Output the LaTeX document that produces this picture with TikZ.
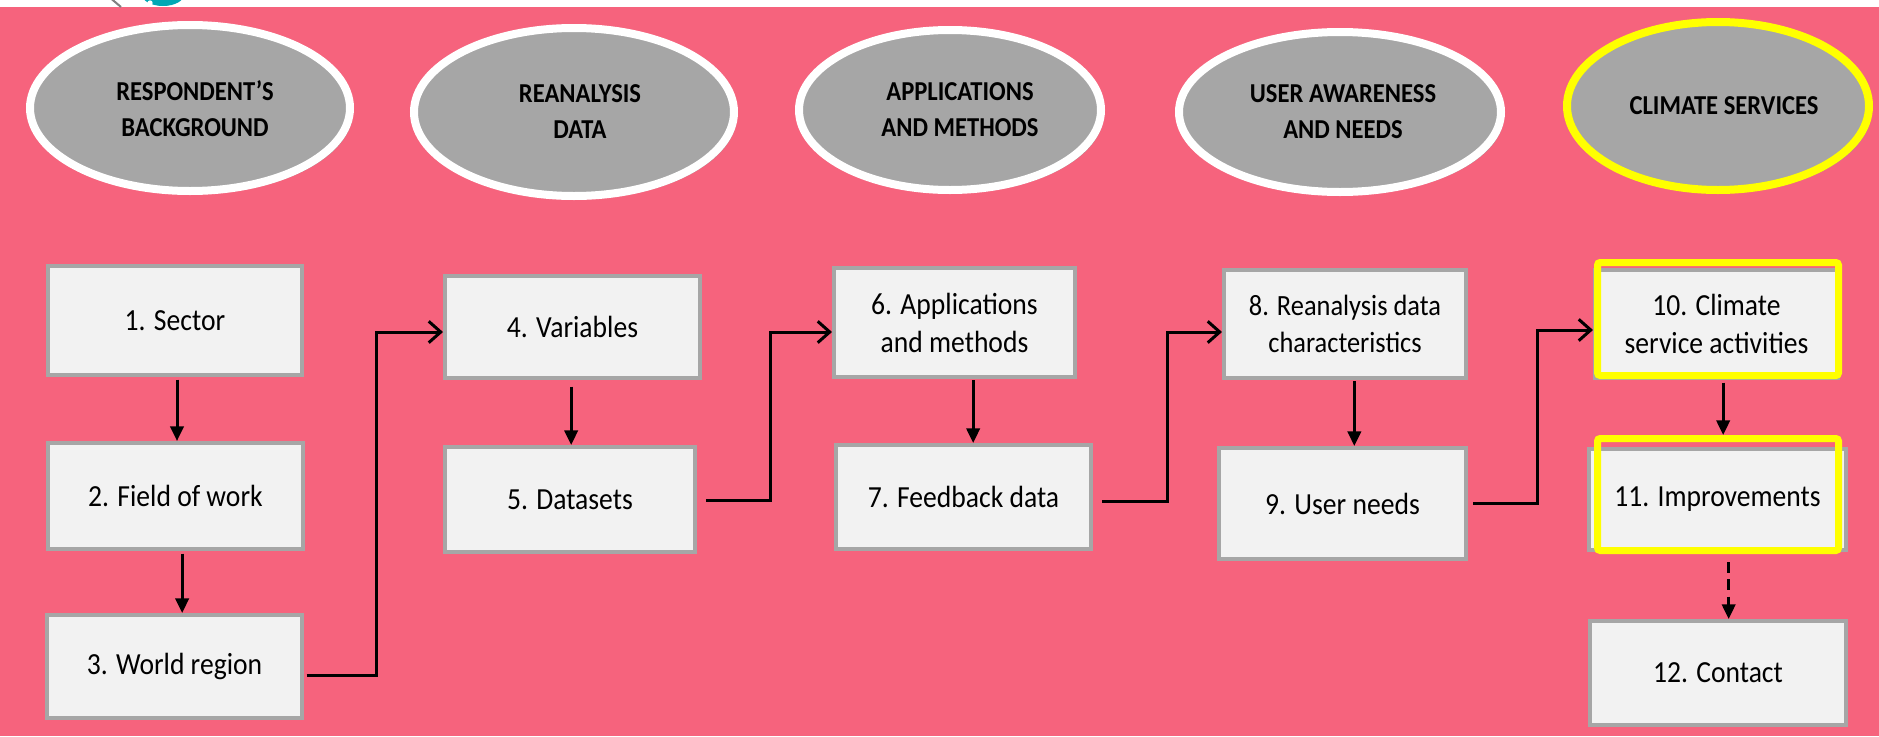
\documentclass[tikz,border=0pt]{standalone}
\usepackage{fontspec}
\setmainfont{Carlito}[FakeStretch=0.9]
\usetikzlibrary{arrows.meta}
\definecolor{bgpink}{RGB}{246,99,125}
\definecolor{ellgray}{RGB}{166,166,166}
\definecolor{shadowgray}{RGB}{150,150,150}
\definecolor{boxfill}{RGB}{242,242,242}
\definecolor{boxline}{RGB}{166,166,166}
\definecolor{hiyellow}{RGB}{255,255,0}
\definecolor{clipteal}{RGB}{0,168,180}
\newcommand\pxu{0.75pt}
\begin{document}
\begin{tikzpicture}[x=0.75pt,y=-0.75pt,
  ellring/.style={draw=white, line width=6pt, fill=ellgray},
  yellring/.style={ellring, draw=hiyellow},
  shad/.style={fill=shadowgray},
  etext/.style={font=\bfseries\fontsize{20.5}{27}\selectfont, align=center, inner sep=0pt},
  qbox/.style={rectangle, draw=boxline, line width=3pt, fill=boxfill, inner sep=0pt,
    align=center, font=\fontsize{23}{28.5}\selectfont},
  hibox/.style={rectangle, draw=hiyellow, line width=5.25pt, rounded corners=2pt, inner sep=0pt},
  down/.style={draw=black, line width=2.25pt, -{Triangle[length=11pt,width=10pt]}},
  dashdown/.style={down, dash pattern=on 8pt off 5pt},
  conn/.style={draw=black, line width=2.25pt, -{Straight Barb[length=9pt,width=16pt,line width=2.25pt]}}
]
\useasboundingbox (0,0) rectangle (1879,736);
\fill[bgpink] (0,0) rectangle (1879,736);
\fill[white] (0,0) rectangle (1879,7);
% cropped clip art at the top edge
\begin{scope}
  \clip (0,0) rectangle (1879,7);
  \draw[gray, line width=1.5pt] (108,-4) -- (121,7);
  \fill[clipteal] (163,-6) ellipse [x radius=16pt, y radius=9pt];
  \fill[white] (150,3) circle [radius=2pt];
\end{scope}

% ---------- ellipses (centres as named coordinates) ----------
\coordinate (e1) at (190,108);
\coordinate (e2) at (574,112);
\coordinate (e3) at (950,110);
\coordinate (e4) at (1340,112);
\coordinate (e5) at (1718,106);

\path[shad] ([shift={(3,3)}]e1) ellipse [x radius=120pt, y radius=62.25pt];
\path[ellring] (e1) ellipse [x radius=120pt, y radius=62.25pt];
\node[etext] (t1) at ([shift={(5,1)}]e1) {RESPONDENT'S\\BACKGROUND};

\path[shad] ([shift={(3,3)}]e2) ellipse [x radius=120pt, y radius=63pt];
\path[ellring] (e2) ellipse [x radius=120pt, y radius=63pt];
\node[etext] (t2) at ([shift={(6,0)}]e2) {REANALYSIS\\DATA};

\path[shad] ([shift={(3,3)}]e3) ellipse [x radius=113.25pt, y radius=60pt];
\path[ellring] (e3) ellipse [x radius=113.25pt, y radius=60pt];
\node[etext] (t3) at ([shift={(10,0)}]e3) {APPLICATIONS\\AND METHODS};

\path[shad] ([shift={(3,3)}]e4) ellipse [x radius=120.75pt, y radius=60pt];
\path[ellring] (e4) ellipse [x radius=120.75pt, y radius=60pt];
\node[etext] (t4) at ([shift={(3,0)}]e4) {USER AWARENESS\\AND NEEDS};

\path[shad] ([shift={(3,3)}]e5) ellipse [x radius=113.25pt, y radius=63pt];
\path[yellring] (e5) ellipse [x radius=113.25pt, y radius=63pt];
\node[etext] (t5) at ([shift={(6,0)}]e5) {CLIMATE SERVICES};

% ---------- boxes ----------
\node[qbox, minimum width=254*\pxu, minimum height=109*\pxu] (b1) at (175,320.5) {1. Sector};
\node[qbox, minimum width=255*\pxu, minimum height=106*\pxu] (b2) at (175.5,496) {2. Field of work};
\node[qbox, minimum width=255*\pxu, minimum height=103*\pxu] (b3) at (174.5,666.5) {3. World region};

\node[qbox, minimum width=255*\pxu, minimum height=102*\pxu] (b4) at (572.5,327) {4. Variables};
\node[qbox, minimum width=250*\pxu, minimum height=105*\pxu] (b5) at (570,499.5) {5. Datasets};

\node[qbox, minimum width=241*\pxu, minimum height=109*\pxu] (b6) at (954.5,322.5) {6. Applications\\and methods};
\node[qbox, minimum width=255*\pxu, minimum height=104*\pxu] (b7) at (963.5,497) {7. Feedback data};

\node[qbox, minimum width=242*\pxu, minimum height=108*\pxu,
      font=\fontsize{22}{28}\selectfont] (b8) at (1345,324) {8. Reanalysis data\\characteristics};
\node[qbox, minimum width=247*\pxu, minimum height=111*\pxu] (b9) at (1342.5,503.5) {9. User needs};

\node[qbox, minimum width=243*\pxu, minimum height=108*\pxu] (b10) at (1716.5,324) {10. Climate\\service activities};
\node[qbox, minimum width=257*\pxu, minimum height=101*\pxu] (b11) at (1717.5,499.5) {11. Improvements};
\node[qbox, minimum width=256*\pxu, minimum height=104*\pxu] (b12) at (1718,673) {12. Contact};

\node[hibox, minimum width=241*\pxu, minimum height=113*\pxu] (h10) at (1718,319) {};
\node[hibox, minimum width=241*\pxu, minimum height=112*\pxu] (h11) at (1718,494.5) {};

% ---------- vertical arrows ----------
\draw[down, shorten <=2pt] ([xshift=1.5pt]b1.south) -- ([xshift=1.5pt]b1.south |- b2.north);
\draw[down, shorten <=2pt] ([xshift=5pt]b2.south) -- ([xshift=5pt]b2.south |- b3.north);
\draw[down, shorten <=5pt] ([xshift=-1pt]b4.south) -- ([xshift=-1pt]b4.south |- b5.north);
\draw[down, shorten <=1pt] ([xshift=14pt]b6.south) -- ([xshift=14pt]b6.south |- b7.north);
\draw[down, shorten <=1pt] ([xshift=7pt]b8.south) -- ([xshift=7pt]b8.south |- b9.north);
\draw[down, shorten <=2pt] ([xshift=5pt]b10.south) -- ([xshift=5pt]b10.south |- h11.north);
\draw[dashdown, shorten <=6pt] ([xshift=8pt]h11.south) -- ([xshift=8pt]h11.south |- b12.north);

% ---------- connectors between columns ----------
\coordinate (k1) at (376,332);
\coordinate (k2) at (770,332);
\coordinate (k3) at (1167,332);
\coordinate (k4) at (1537,330);
\draw[conn, shorten <=2pt] ([yshift=-7pt]b3.east) -| (k1) -- (k1 -| b4.west);
\draw[conn, shorten <=7pt] ([yshift=-1pt]b5.east) -| (k2) -- (k2 -| b6.west);
\draw[conn, shorten <=7pt] ([yshift=-3pt]b7.east) -| (k3) -- (k3 -| b8.west);
\draw[conn, shorten <=4pt] ([yshift=0pt]b9.east) -| (k4) -- (k4 -| b10.west);
\end{tikzpicture}
\end{document}
